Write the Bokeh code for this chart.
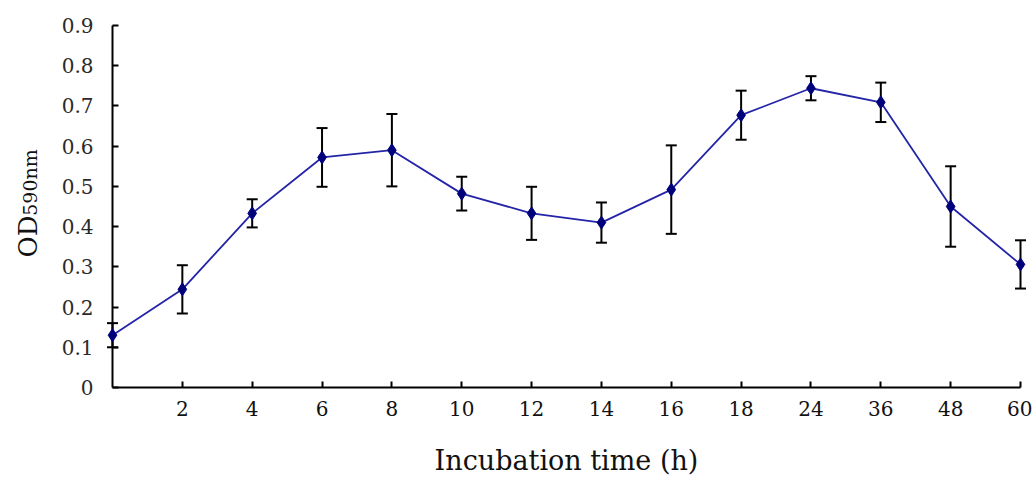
import math
from bokeh.plotting import figure
from bokeh.layouts import row
from bokeh.models import ColumnDataSource, FixedTicker, Range1d
from bokeh.core.properties import value
from bokeh.embed import file_html
from bokeh.resources import INLINE

# ---- data ----
time_labels = ["0", "2", "4", "6", "8", "10", "12", "14", "16", "18",
               "24", "36", "48", "60"]
od590 = [0.13, 0.244, 0.433, 0.572, 0.59, 0.482, 0.433, 0.41, 0.492,
         0.677, 0.744, 0.709, 0.45, 0.306]
od_sd = [0.03, 0.06, 0.035, 0.073, 0.09, 0.042, 0.066, 0.05, 0.11,
         0.061, 0.03, 0.049, 0.10, 0.06]
y_ticks = [0, 0.1, 0.2, 0.3, 0.4, 0.5, 0.6, 0.7, 0.8, 0.9]
y_title_main = "OD"
y_title_sub = "590nm"
x_title = "Incubation time (h)"

pos = list(range(len(time_labels)))
src = ColumnDataSource(dict(
    x=pos, y=od590,
    upper=[v + s for v, s in zip(od590, od_sd)],
    lower=[v - s for v, s in zip(od590, od_sd)],
))

FONT = "DejaVu Serif"
FRAME_W, FRAME_H = 908, 362
TITLE_W = 44
LEFT, TOP, BOTTOM = 112, 25, 93
TOTAL_H = TOP + FRAME_H + BOTTOM

# ---------- main chart ----------
p = figure(frame_width=FRAME_W, frame_height=FRAME_H,
           min_border_left=LEFT - TITLE_W, min_border_right=12,
           min_border_top=TOP, min_border_bottom=BOTTOM,
           x_range=Range1d(0, len(pos) - 1), y_range=Range1d(0, 0.9),
           output_backend="svg", toolbar_location=None,
           background_fill_color="white", border_fill_color="white")
p.outline_line_color = None
p.xgrid.visible = False
p.ygrid.visible = False

for ax in (p.xaxis[0], p.yaxis[0]):
    ax.axis_line_color = "black"
    ax.axis_line_width = 2
    ax.major_tick_line_color = "black"
    ax.major_tick_line_width = 2
    ax.major_tick_in = 6
    ax.major_tick_out = 0
    ax.minor_tick_line_color = None
    ax.major_label_text_font = FONT
    ax.major_label_text_font_size = "20px"

p.xaxis.ticker = FixedTicker(ticks=pos[1:])
p.xaxis.major_label_overrides = {i: time_labels[i] for i in pos[1:]}
p.xaxis.major_label_standoff = 13
p.xaxis.major_label_text_color = "#111111"
p.xaxis.axis_label = x_title
p.xaxis.axis_label_text_font = FONT
p.xaxis.axis_label_text_font_size = "27px"
p.xaxis.axis_label_text_font_style = "normal"
p.xaxis.axis_label_text_color = "#111111"
p.xaxis.axis_label_standoff = 26

p.yaxis.ticker = FixedTicker(ticks=y_ticks)
p.yaxis.major_label_overrides = {0: "0"}
p.yaxis.major_label_standoff = 19
p.yaxis.major_label_text_color = "#2a2a2a"

# error bars (glyphs at overlay level so caps at the edges are not clipped)
p.segment(x0="x", y0="lower", x1="x", y1="upper", source=src,
          line_color="black", line_width=2, level="overlay")
p.scatter("x", "upper", source=src, marker="dash", size=11,
          line_color="black", line_width=2, level="overlay")
p.scatter("x", "lower", source=src, marker="dash", size=11,
          line_color="black", line_width=2, level="overlay")

# line + markers
p.line("x", "y", source=src, line_color="#2424A8", line_width=1.8,
       level="overlay")
p.scatter("x", "y", source=src, marker="diamond", size=13,
          fill_color="#00007A", line_color="#00007A", level="overlay")

# ---------- y-axis title panel ("OD" large + "590nm" small) ----------
# The row aligns this panel's frame with the main frame (top=TOP, height=FRAME_H),
# so its y coordinates are pixels measured up from the main x-axis.
t = figure(width=TITLE_W, height=TOTAL_H,
           x_range=Range1d(0, TITLE_W), y_range=Range1d(0, FRAME_H),
           x_axis_type=None, y_axis_type=None,
           min_border=0, output_backend="svg", toolbar_location=None,
           background_fill_color="white", border_fill_color="white")
t.outline_line_color = None
t.grid.visible = False
base = TOP + FRAME_H
t.text(x=[27], y=[base - 236], text=[y_title_main], angle=math.pi / 2,
       text_font=value(FONT), text_font_size="26px", text_color="#111111",
       text_align="center", text_baseline="middle")
t.text(x=[29], y=[base - 182], text=[y_title_sub], angle=math.pi / 2,
       text_font=value(FONT), text_font_size="19px", text_color="#111111",
       text_align="center", text_baseline="middle")

layout = row(t, p, spacing=0)
open("out.html", "w").write(file_html(layout, INLINE))
